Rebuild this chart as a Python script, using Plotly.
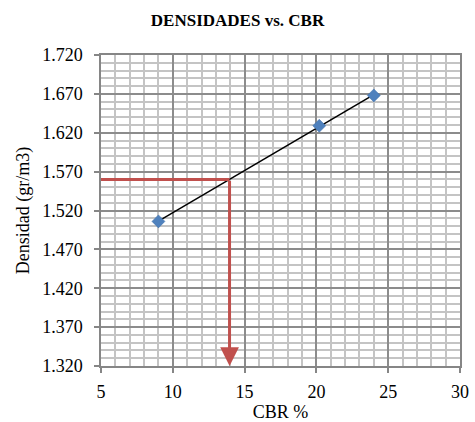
import numpy as np
import plotly.graph_objects as go

# Ensayo de densidades contra CBR
cbr = [9.0, 20.2, 24.0]
densidad = [1.506, 1.629, 1.668]

# Densidad de diseño leída sobre la recta de tendencia
densidad_diseno = 1.56

x_ticks = [5, 10, 15, 20, 25, 30]
y_ticks = [1.320, 1.370, 1.420, 1.470, 1.520, 1.570, 1.620, 1.670, 1.720]

# Recta de tendencia lineal (mínimos cuadrados)
m, b = np.polyfit(cbr, densidad, 1)
x_tend = [min(cbr), max(cbr)]
y_tend = [m * v + b for v in x_tend]
cbr_diseno = (densidad_diseno - b) / m

RED = "#C0504D"
BLUE = "#4F81BD"
FONT = "Liberation Serif"

fig = go.Figure()

fig.add_trace(go.Scatter(
    x=x_tend, y=y_tend, mode="lines",
    line=dict(color="black", width=1.5), hoverinfo="skip", showlegend=False,
))
fig.add_trace(go.Scatter(
    x=cbr, y=densidad, mode="markers",
    marker=dict(symbol="diamond", size=10, color=BLUE,
                line=dict(color="#3F6FA8", width=0.5)),
    showlegend=False,
))
# Línea horizontal desde el eje hasta la recta
fig.add_trace(go.Scatter(
    x=[x_ticks[0], cbr_diseno], y=[densidad_diseno, densidad_diseno],
    mode="lines", line=dict(color=RED, width=3), hoverinfo="skip", showlegend=False,
))
# Flecha vertical hacia el eje de CBR
fig.add_annotation(
    x=cbr_diseno, y=y_ticks[0], ax=cbr_diseno, ay=densidad_diseno,
    xref="x", yref="y", axref="x", ayref="y",
    showarrow=True, arrowhead=2, arrowsize=1.25, arrowwidth=3, arrowcolor=RED,
    text="", standoff=0,
)

axis_common = dict(
    showline=True, linecolor="#868686", linewidth=1.5, mirror=True,
    ticks="outside", ticklen=5, tickcolor="#868686", tickwidth=1.5,
    showgrid=True, gridcolor="#8C8C8C", gridwidth=1.5,
    zeroline=False, automargin=False,
    tickfont=dict(family=FONT, size=18, color="black"),
)

fig.update_xaxes(
    range=[5, 30], tickvals=x_ticks, ticktext=[str(v) for v in x_ticks],
    minor=dict(dtick=1, tick0=5, showgrid=True, gridcolor="#C4C4C4", gridwidth=1.5, ticks=""),
    title=dict(text="CBR %", font=dict(family=FONT, size=18, color="black"), standoff=8),
    ticklabelstandoff=4,
    **axis_common,
)
fig.update_yaxes(
    range=[1.32, 1.72], tickvals=y_ticks, ticktext=[f"{v:.3f}" for v in y_ticks],
    minor=dict(dtick=0.01, tick0=1.32, showgrid=True, gridcolor="#C4C4C4", gridwidth=1.5, ticks=""),
    title=dict(text="Densidad (gr/m3)", font=dict(family=FONT, size=18, color="black"), standoff=8),
    ticklabelstandoff=8,
    **axis_common,
)

fig.update_layout(
    width=475, height=422,
    margin=dict(l=101, r=15, t=55, b=56),
    paper_bgcolor="white", plot_bgcolor="white",
    title=dict(text="<b>DENSIDADES vs. CBR</b>", x=0.5, xanchor="center",
               y=1 - 20 / 422, yanchor="middle", automargin=False,
               font=dict(family=FONT, size=17, color="black")),
)

fig.write_html("out.html")
